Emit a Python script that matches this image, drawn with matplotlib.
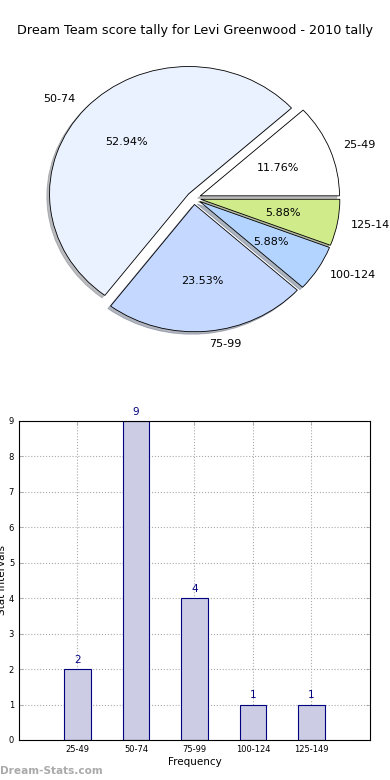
import matplotlib
matplotlib.use("Agg")
import matplotlib.pyplot as plt

title = "Dream Team score tally for Levi Greenwood - 2010 tally"
intervals = ["25-49", "50-74", "75-99", "100-124", "125-149"]
counts = [2, 9, 4, 1, 1]
slice_colors = ["#FFFFFF", "#EAF1FF", "#C5D8FF", "#B3D4FF", "#CFEB8A"]
explode = [0.05, 0.05, 0.05, 0.05, 0.05]
y_ticks = list(range(0, 10))

fig = plt.figure(figsize=(3.9, 7.8), dpi=100)
fig.patch.set_facecolor("white")

# pie on top
pie_ax = fig.add_axes([0.051, 0.542, 0.892, 0.408])
wedges, texts, autotexts = pie_ax.pie(
    counts,
    labels=intervals,
    colors=slice_colors,
    explode=explode,
    autopct="%.2f%%",
    shadow={"ox": -0.014, "oy": -0.014, "shade": 0.5},
    startangle=0,
    wedgeprops={"edgecolor": "black", "linewidth": 0.6},
    textprops={"fontsize": 8},
)
pie_ax.set_aspect("auto")
pie_ax.set_xlim(-1.25, 1.25)
pie_ax.set_ylim(-1.25, 1.25)
fig.text(0.5, 0.961, title, ha="center", va="center", fontsize=9.2)

# bar chart below
bar_ax = fig.add_axes([0.0487, 0.0513, 0.9, 0.409])
positions = list(range(len(intervals)))
bars = bar_ax.bar(
    positions,
    counts,
    width=0.45,
    color="#CCCCE4",
    edgecolor="navy",
    linewidth=0.8,
    zorder=2,
)
for pos, value in zip(positions, counts):
    bar_ax.text(pos, value + 0.12, str(value), ha="center", va="bottom",
                fontsize=7.5, color="navy")
bar_ax.set_xlim(-1, 5)
bar_ax.set_ylim(0, 9)
bar_ax.set_xticks(positions)
bar_ax.set_xticklabels(intervals)
bar_ax.set_yticks(y_ticks)
bar_ax.tick_params(labelsize=6, direction="in", top=True, right=True,
                   length=3, width=0.5, colors="#999999", labelcolor="black")
bar_ax.grid(True, linestyle=":", color="#AAAAAA", linewidth=0.8, zorder=0)
bar_ax.set_axisbelow(True)
bar_ax.set_xlabel("Frequency", fontsize=7.5, labelpad=2)
bar_ax.set_ylabel("Stat Intervals", fontsize=7.5, labelpad=1)
for spine in bar_ax.spines.values():
    spine.set_linewidth(0.8)

fig.text(0.0, 0.012, "Dream-Stats.com", ha="left", va="center",
         fontsize=7.6, fontweight="bold", color="#AAAAAA")

fig.savefig("out.png", dpi=100)
